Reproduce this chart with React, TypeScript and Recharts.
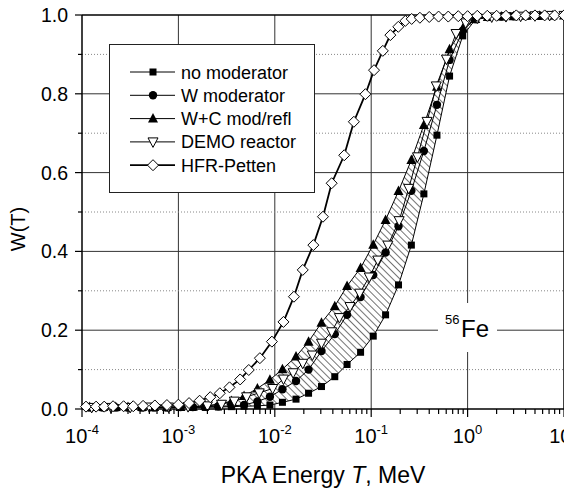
import React from 'react';
import {
  ComposedChart,
  Line,
  Area,
  XAxis,
  YAxis,
  CartesianGrid,
  ReferenceLine,
  Legend,
  Customized
} from 'recharts';

const FONT = 'Arial, "Liberation Sans", Helvetica, sans-serif';

// energies (MeV) shared by the three "moderator" runs
const modT = [1.2e-4, 1.66e-4, 2.24e-4, 3.0e-4, 4.2e-4, 5.6e-4, 7.6e-4, 1.05e-3, 1.41e-3, 1.9e-3, 2.6e-3, 3.55e-3, 4.8e-3, 6.6e-3, 8.9e-3, 0.012, 0.0166, 0.0224, 0.0305, 0.0419, 0.0562, 0.0776, 0.105, 0.141, 0.192, 0.261, 0.352, 0.481, 0.65, 0.89, 1.2, 1.62, 2.24, 3.0, 4.1, 5.6, 7.6, 10];
const noMod = [0.003, 0.003, 0.003, 0.003, 0.003, 0.003, 0.003, 0.004, 0.004, 0.004, 0.005, 0.006, 0.007, 0.008, 0.010, 0.017, 0.025, 0.040, 0.057, 0.082, 0.113, 0.144, 0.185, 0.239, 0.315, 0.416, 0.546, 0.695, 0.845, 0.947, 0.988, 0.994, 0.996, 0.997, 0.998, 0.998, 0.999, 0.999];
const wMod = [0.004, 0.004, 0.004, 0.004, 0.004, 0.004, 0.004, 0.005, 0.005, 0.006, 0.007, 0.008, 0.010, 0.019, 0.031, 0.050, 0.071, 0.100, 0.147, 0.190, 0.239, 0.284, 0.340, 0.397, 0.464, 0.554, 0.655, 0.772, 0.886, 0.960, 0.990, 0.995, 0.996, 0.997, 0.998, 0.998, 0.999, 0.999];
const wcMod = [0.005, 0.005, 0.005, 0.005, 0.005, 0.005, 0.005, 0.005, 0.006, 0.008, 0.012, 0.020, 0.033, 0.052, 0.074, 0.101, 0.133, 0.171, 0.219, 0.261, 0.312, 0.358, 0.417, 0.480, 0.553, 0.632, 0.721, 0.818, 0.913, 0.966, 0.990, 0.995, 0.996, 0.997, 0.998, 0.998, 0.999, 0.999];

const demoT = [1.26e-4, 2.0e-4, 3.16e-4, 5.0e-4, 7.9e-4, 1.26e-3, 2.0e-3, 2.8e-3, 3.8e-3, 5.1e-3, 6.9e-3, 9.5e-3, 0.0123, 0.0155, 0.0195, 0.0245, 0.0305, 0.0389, 0.0468, 0.0603, 0.0759, 0.0955, 0.117, 0.149, 0.195, 0.245, 0.302, 0.38, 0.473, 0.603, 0.759, 0.955, 1.26, 1.78, 2.5, 3.55, 5.0, 7.1, 10];
const demoW = [0.004, 0.004, 0.004, 0.005, 0.005, 0.006, 0.008, 0.012, 0.020, 0.031, 0.041, 0.052, 0.076, 0.092, 0.116, 0.137, 0.167, 0.196, 0.232, 0.260, 0.294, 0.335, 0.378, 0.416, 0.478, 0.560, 0.640, 0.730, 0.820, 0.888, 0.953, 0.980, 0.992, 0.995, 0.996, 0.997, 0.998, 0.999, 0.999];

const hfrT = [1.1e-4, 1.4e-4, 1.7e-4, 2.1e-4, 2.7e-4, 3.4e-4, 4.3e-4, 5.7e-4, 7.6e-4, 1.0e-3, 1.29e-3, 1.66e-3, 2.14e-3, 2.69e-3, 3.39e-3, 4.37e-3, 5.37e-3, 7.0e-3, 9.33e-3, 0.0123, 0.0158, 0.0195, 0.0251, 0.0316, 0.0389, 0.0525, 0.0661, 0.0871, 0.107, 0.132, 0.158, 0.191, 0.226, 0.263, 0.32, 0.4, 0.5, 0.63, 0.8, 1.0, 1.26, 1.6, 2.0, 2.5, 3.2, 4.0, 5.0, 6.3, 8.0, 10];
const hfrW = [0.006, 0.006, 0.006, 0.007, 0.007, 0.007, 0.008, 0.009, 0.010, 0.011, 0.015, 0.021, 0.030, 0.040, 0.055, 0.075, 0.099, 0.129, 0.171, 0.221, 0.285, 0.353, 0.416, 0.488, 0.573, 0.644, 0.729, 0.799, 0.860, 0.909, 0.949, 0.970, 0.985, 0.990, 0.993, 0.995, 0.996, 0.996, 0.997, 0.997, 0.998, 0.998, 0.998, 0.998, 0.999, 0.999, 0.999, 0.999, 0.999, 0.999];

const xMajor = [1e-4, 1e-3, 1e-2, 1e-1, 1, 10];
const yTicks = [0, 0.1, 0.2, 0.3, 0.4, 0.5, 0.6, 0.7, 0.8, 0.9, 1.0];
const yMajor = [0.2, 0.4, 0.6, 0.8];
const yMinor = [0.1, 0.3, 0.5, 0.7, 0.9];

const zip = (xs: number[], ys: number[]) => xs.map((T, i) => ({ T, W: ys[i] }));

const series = [
  { name: 'no moderator', kind: 'square', data: zip(modT, noMod), width: 1 },
  { name: 'W moderator', kind: 'circle', data: zip(modT, wMod), width: 1 },
  { name: 'W+C mod/refl', kind: 'up', data: zip(modT, wcMod), width: 1 },
  { name: 'DEMO reactor', kind: 'down', data: zip(demoT, demoW), width: 1 },
  { name: 'HFR-Petten', kind: 'diamond', data: zip(hfrT, hfrW), width: 1.8 }
];

// hatched band between "no moderator" and "W+C mod/refl"
const bandData = modT.map((T, i) => ({ T, band: [noMod[i], wcMod[i]] }));

const xTicks: number[] = [];
xMajor.forEach((m, i) => {
  xTicks.push(m);
  if (i < xMajor.length - 1) for (let k = 2; k <= 9; k++) xTicks.push(m * k);
});

function Marker({ kind, cx, cy }: { kind: string; cx: number; cy: number }) {
  if (cx == null || cy == null) return null;
  switch (kind) {
    case 'square':
      return <rect x={cx - 3.5} y={cy - 3.5} width={7} height={7} fill="#000" />;
    case 'circle':
      return <circle cx={cx} cy={cy} r={4.2} fill="#000" />;
    case 'up':
      return <polygon points={`${cx},${cy - 5.5} ${cx + 5},${cy + 4} ${cx - 5},${cy + 4}`} fill="#000" />;
    case 'down':
      return <polygon points={`${cx - 5},${cy - 4} ${cx + 5},${cy - 4} ${cx},${cy + 5.5}`} fill="#fff" stroke="#000" strokeWidth={1} />;
    default:
      return <polygon points={`${cx},${cy - 5.5} ${cx + 5.5},${cy} ${cx},${cy + 5.5} ${cx - 5.5},${cy}`} fill="#fff" stroke="#000" strokeWidth={1} />;
  }
}

const XTick = (props: any) => {
  const { x, y, payload } = props;
  const v = payload.value;
  const e = Math.round(Math.log10(v));
  const major = Math.abs(Math.log10(v) - e) < 1e-6;
  return (
    <g>
      <line x1={x} x2={x} y1={y} y2={y + (major ? 8 : 5)} stroke="#000" strokeWidth={1.2} />
      {major && (
        <text x={x} y={y + 34} textAnchor="middle" fontSize={20} fontFamily={FONT} fill="#000">
          10<tspan dy={-9} fontSize={13}>{e}</tspan>
        </text>
      )}
    </g>
  );
};

const YTick = (props: any) => {
  const { x, y, payload } = props;
  const v = payload.value;
  const major = Math.round(v * 10) % 2 === 0;
  return (
    <g>
      <line x1={x} x2={x - (major ? 7 : 4)} y1={y} y2={y} stroke="#000" strokeWidth={1.2} />
      {major && (
        <text x={x - 14} y={y + 7} textAnchor="end" fontSize={19.5} fontFamily={FONT} fill="#000">
          {v.toFixed(1)}
        </text>
      )}
    </g>
  );
};

const LegendBox = () => (
  <svg width={206} height={149} style={{ display: 'block' }}>
    <rect x={0.5} y={0.5} width={205} height={148} fill="#fff" stroke="#222" strokeWidth={1} />
    {series.map((s, i) => {
      const cy = 28 + i * 23.3;
      return (
        <g key={s.name}>
          <line x1={21} x2={66} y1={cy} y2={cy} stroke="#000" strokeWidth={s.width} />
          <Marker kind={s.kind} cx={44} cy={cy} />
          <text x={72} y={cy + 6.5} fontSize={18} fontFamily={FONT} fill="#000">{s.name}</text>
        </g>
      );
    })}
  </svg>
);

const FeLabel = () => (
  <g>
    <rect x={438} y={303} width={59} height={49} fill="#fff" />
    <text x={445} y={324} fontSize={13} fontFamily={FONT} fill="#000">56</text>
    <text x={461} y={337} fontSize={24} fontFamily={FONT} fill="#000">Fe</text>
  </g>
);

export default function App() {
  return (
    <div style={{ position: 'relative', width: 572, height: 488, margin: '-8px 0 0 -8px' }}>
      <ComposedChart width={572} height={488} margin={{ top: 15, right: 8, left: 22, bottom: 29 }}>
        <defs>
          <pattern id="hatch" patternUnits="userSpaceOnUse" width={5} height={5} patternTransform="rotate(-45)">
            <rect width={5} height={5} fill="#fff" />
            <line x1={0} y1={0} x2={0} y2={5} stroke="#000" strokeWidth={1.1} />
          </pattern>
        </defs>
        <CartesianGrid horizontalValues={yMajor} verticalValues={xMajor.slice(1, -1)} stroke="#333" strokeWidth={1} />
        <CartesianGrid horizontalValues={yMinor} vertical={false} stroke="#888" strokeDasharray="1 2" strokeWidth={1} />
        <XAxis
          dataKey="T"
          type="number"
          scale="log"
          domain={[1e-4, 10]}
          ticks={xTicks}
          interval={0}
          tick={<XTick />}
          tickLine={false}
          tickSize={0}
          tickMargin={0}
          height={50}
          axisLine={{ stroke: '#000', strokeWidth: 1.5 }}
          label={{
            content: (p: any) => {
              const vb = p.viewBox;
              return (
                <text x={vb.x + vb.width / 2} y={vb.y + 74} textAnchor="middle" fontSize={23} fontFamily={FONT} fill="#000">
                  PKA Energy <tspan fontStyle="italic">T</tspan>, MeV
                </text>
              );
            }
          }}
        />
        <YAxis
          type="number"
          domain={[0, 1]}
          ticks={yTicks}
          interval={0}
          tick={<YTick />}
          tickLine={false}
          tickSize={0}
          tickMargin={0}
          width={60}
          axisLine={{ stroke: '#000', strokeWidth: 1.5 }}
          label={{
            content: (p: any) => {
              const vb = p.viewBox;
              const cx = 25;
              const cy = vb.y + vb.height / 2 + 17;
              return (
                <text x={cx} y={cy} transform={`rotate(-90, ${cx}, ${cy})`} textAnchor="middle" fontSize={20} fontFamily={FONT} fill="#000">
                  W(T)
                </text>
              );
            }
          }}
        />
        <ReferenceLine y={1} stroke="#000" strokeWidth={1.5} />
        <ReferenceLine x={10} stroke="#000" strokeWidth={1.5} />
        <Customized component={FeLabel} />
        <Area
          data={bandData}
          dataKey="band"
          type="linear"
          stroke="none"
          fill="url(#hatch)"
          fillOpacity={1}
          isAnimationActive={false}
          legendType="none"
        />
        {series.map((s) => (
          <Line
            key={s.name}
            data={s.data}
            dataKey="W"
            name={s.name}
            type="linear"
            stroke="#000"
            strokeWidth={s.width}
            isAnimationActive={false}
            dot={(p: any) => <Marker key={`${s.kind}-${p.index}`} kind={s.kind} cx={p.cx} cy={p.cy} />}
            activeDot={false}
          />
        ))}
        <Legend
          layout="vertical"
          align="center"
          verticalAlign="middle"
          content={() => <LegendBox />}
          wrapperStyle={{ left: 109, top: 44, width: 206, height: 149 }}
        />
      </ComposedChart>
    </div>
  );
}
